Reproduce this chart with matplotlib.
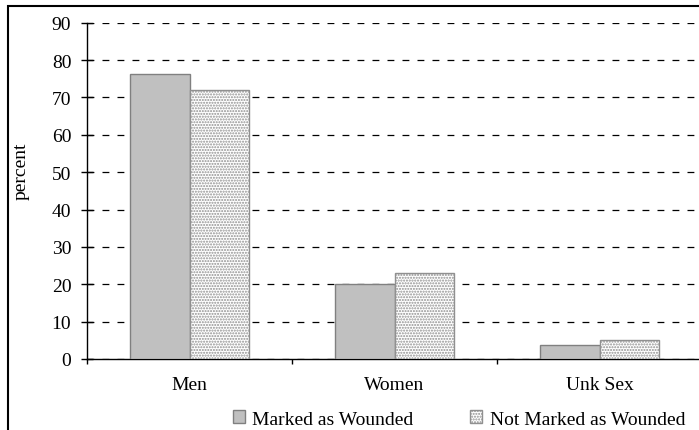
import matplotlib
matplotlib.use("Agg")
import matplotlib.pyplot as plt
from matplotlib.patches import Rectangle
import numpy as np

categories = ["Men", "Women", "Unk Sex"]
marked = [76.2, 20.0, 3.8]
not_marked = [71.9, 23.0, 5.2]
series_names = ["Marked as Wounded", "Not Marked as Wounded"]
yticks = list(range(0, 100, 10))

plt.rcParams["font.family"] = ["Liberation Serif", "DejaVu Serif"]
plt.rcParams["hatch.color"] = "#a8a8a8"
plt.rcParams["hatch.linewidth"] = 1.0

FS = 14
W, H = 699, 431
fig = plt.figure(figsize=(W / 100, H / 100), dpi=100)
ax = fig.add_axes([87 / W, (H - 360) / H, (702 - 87) / W, (360 - 23.7) / H])

x = np.arange(len(categories))
bw = 0.288
ax.bar(x - bw / 2, marked, bw, color="#c0c0c0", edgecolor="#808080",
       linewidth=1.0, label=series_names[0], zorder=3)
ax.bar(x + bw / 2, not_marked, bw, color="white", edgecolor="#909090",
       hatch="......", linewidth=1.0, label=series_names[1], zorder=3)

ax.set_xlim(-0.5, len(categories) - 0.5)
ax.set_ylim(0, 90)
ax.set_yticks(yticks)
ax.tick_params(axis="y", direction="inout", length=8.6, width=1.0,
               labelsize=FS, pad=7)
ax.set_xticks(np.arange(len(categories) + 1) - 0.5)
ax.set_xticklabels([])
ax.set_xticks(x, minor=True)
ax.set_xticklabels(categories, minor=True)
ax.tick_params(axis="x", which="major", direction="out", length=3.6, width=1.0)
ax.tick_params(axis="x", which="minor", length=0, labelsize=FS, pad=12)

ax.yaxis.grid(True, linestyle=(0, (5.5, 6.5)), color="black", linewidth=0.9, zorder=0)
ax.set_axisbelow(True)
for side in ("top", "right"):
    ax.spines[side].set_visible(False)
for side in ("left", "bottom"):
    ax.spines[side].set_linewidth(1.0)

ax.set_ylabel("percent", fontsize=FS)
ax.yaxis.set_label_coords(-0.094, 0.56)

leg = fig.legend(loc="center", bbox_to_anchor=(459 / W, 1 - 420 / H), ncol=2,
                 frameon=False, fontsize=FS, handlelength=0.6,
                 handleheight=0.6, handletextpad=0.4, columnspacing=2.9)

fig.patches.append(Rectangle((8 / W, -0.1), 1.2, 1.1 - 7 / H,
                             transform=fig.transFigure, fill=False,
                             edgecolor="black", linewidth=1.5))

fig.savefig("out.png", dpi=100)
